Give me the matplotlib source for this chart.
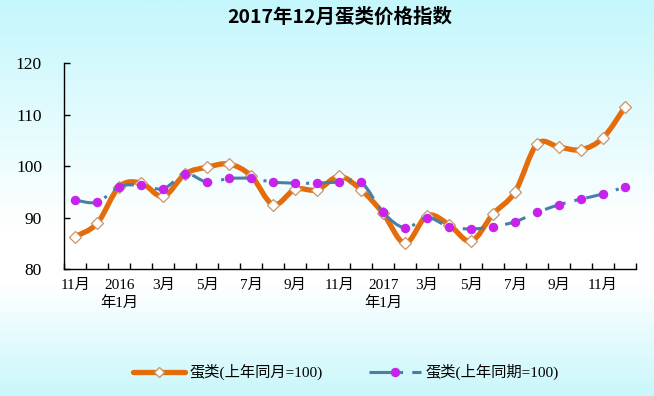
import numpy as np
import matplotlib
matplotlib.use("Agg")
import matplotlib.pyplot as plt
from matplotlib.path import Path
from matplotlib.patches import PathPatch
from matplotlib.lines import Line2D
from matplotlib.colors import LinearSegmentedColormap

# 2015年11月 - 2017年12月
months = ["11月", "", "2016\n年1月", "", "3月", "", "5月", "", "7月", "", "9月", "",
          "11月", "", "2017\n年1月", "", "3月", "", "5月", "", "7月", "", "9月", "",
          "11月", ""]
yoy = [86.3, 88.9, 96.0, 96.7, 94.1, 98.5, 99.8, 100.4, 98.1, 92.5, 95.5, 95.4, 98.0,
       95.4, 90.8, 85.0, 90.4, 88.6, 85.4, 90.7, 95.0, 104.3, 103.7, 103.2, 105.5, 111.5]
ytd = [93.4, 93.0, 96.0, 96.3, 95.6, 98.5, 96.9, 97.6, 97.6, 96.9, 96.7, 96.7, 96.9,
       96.9, 91.0, 88.0, 90.0, 88.2, 87.8, 88.2, 89.2, 91.0, 92.5, 93.6, 94.6, 96.0]
names = ["蛋类(上年同月=100)", "蛋类(上年同期=100)"]

ORANGE = "#E46C0A"
BLUE = "#4A7EA7"
MAGENTA = "#C823EC"
FONT = ["Liberation Serif", "Noto Sans CJK SC"]


def smooth_path(x, y):
    # Excel-style smoothed line as cubic Bezier segments
    pts = np.column_stack([x, y]).astype(float)
    n = len(pts)
    verts = [pts[0]]
    codes = [Path.MOVETO]
    for i in range(n - 1):
        p0 = pts[max(i - 1, 0)]
        p1 = pts[i]
        p2 = pts[i + 1]
        p3 = pts[min(i + 2, n - 1)]
        verts += [p1 + (p2 - p0) / 6, p2 - (p3 - p1) / 6, p2]
        codes += [Path.CURVE4] * 3
    return Path(verts, codes)


fig = plt.figure(figsize=(6.54, 3.96), dpi=100)

# background gradient
bg = fig.add_axes([0, 0, 1, 1], zorder=-5)
cmap = LinearSegmentedColormap.from_list(
    "bg", [(0, "#C4F7FC"), (0.58, "#FFFFFF"), (0.72, "#FFFFFF"), (1, "#C9F7FB")])
bg.imshow(np.linspace(0, 1, 256).reshape(-1, 1), aspect="auto", cmap=cmap,
          extent=[0, 1, 0, 1], origin="upper")
bg.axis("off")

ax = fig.add_axes([64.3 / 654, 127 / 396, 571.7 / 654, 205.7 / 396])
ax.patch.set_alpha(0)
x = np.arange(len(yoy))

ax.add_patch(PathPatch(smooth_path(x, yoy), fill=False, edgecolor=ORANGE, lw=3.8,
                       joinstyle="round", capstyle="round", zorder=2))
ax.plot(x, yoy, ls="none", marker="D", ms=6.5, mfc="white", mec="#C9956A", mew=0.9, zorder=3)
ax.add_patch(PathPatch(smooth_path(x, ytd), fill=False, edgecolor=BLUE, lw=2.2,
                       linestyle=(0, (7, 3, 1, 3)), capstyle="butt", zorder=4))
ax.plot(x, ytd, ls="none", marker="o", ms=5.8, mfc=MAGENTA, mec=MAGENTA, zorder=5)

ax.set_xlim(-0.5, len(yoy) - 0.5)
ax.set_ylim(80, 120)
ax.set_yticks([80, 90, 100, 110, 120])
ax.set_xticks(np.arange(-0.5, len(yoy), 1.0))
ax.set_xticklabels([])
ax.set_xticks(x, minor=True)
ax.set_xticklabels(months, minor=True, fontsize=11, family=FONT, linespacing=1.4)
ax.tick_params(axis="x", which="major", direction="in", length=4, width=1)
ax.tick_params(axis="x", which="minor", length=0, pad=7)
ax.tick_params(axis="y", direction="in", length=4, width=1, pad=16, labelsize=12.5)
for lab in ax.get_yticklabels():
    lab.set_family(FONT)
for s in ("top", "right"):
    ax.spines[s].set_visible(False)
for s in ("left", "bottom"):
    ax.spines[s].set_linewidth(1)

fig.text(340 / 654, 1 - 17 / 396, "2017年12月蛋类价格指数", ha="center", va="center",
         fontsize=14, weight="bold", family=["Noto Sans CJK SC", "DejaVu Sans"])

h1 = Line2D([], [], color=ORANGE, lw=3.8, marker="D", ms=5, mfc="white", mec="#C9956A",
            solid_capstyle="round")
h2 = Line2D([], [], color=BLUE, lw=2.2, ls=(0, (7, 3, 1, 3)), marker="o", ms=5.8,
            mfc=MAGENTA, mec=MAGENTA)
fig.legend([h1, h2], names, loc="center", bbox_to_anchor=(346 / 654, 1 - 372 / 396),
           ncol=2, frameon=False, handlelength=3.4, handletextpad=0.3, columnspacing=3.0,
           prop={"family": FONT, "size": 11})

fig.savefig("out.png", dpi=100)
